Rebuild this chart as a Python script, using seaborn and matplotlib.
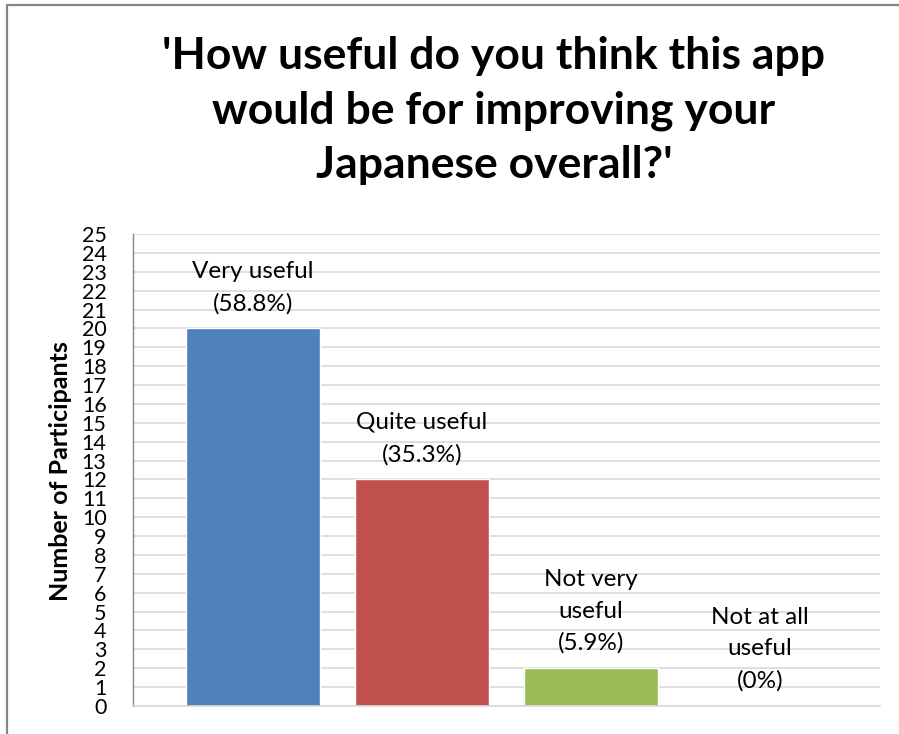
import matplotlib
matplotlib.use("Agg")
import matplotlib.pyplot as plt
from matplotlib.lines import Line2D
import seaborn as sns
import pandas as pd

# Survey responses
categories = ["Very useful", "Quite useful", "Not very useful", "Not at all useful"]
participants = [20, 12, 2, 0]
bar_labels = ["Very useful\n(58.8%)", "Quite useful\n(35.3%)",
              "Not very\nuseful\n(5.9%)", "Not at all\nuseful\n(0%)"]
bar_colors = ["#4F81BD", "#C0504D", "#9BBB59", "#8064A2"]
y_ticks = list(range(0, 26))

title_text = "'How useful do you think this app\nwould be for improving your\nJapanese overall?'"
y_title = "Number of Participants"

sns.set_theme(style="white")
plt.rcParams["font.family"] = ["Lato", "DejaVu Sans"]

df = pd.DataFrame({"category": categories, "count": participants})

fig = plt.figure(figsize=(8.99, 7.34), dpi=100)
ax = fig.add_axes([133 / 899, 1 - 706 / 734, (880 - 133) / 899, (706 - 234) / 734])

sns.barplot(data=df, x="category", y="count", hue="category",
            palette=bar_colors, width=0.79, dodge=False, legend=False,
            saturation=1.0, ax=ax)

ax.set_xlim(-0.71, 3.71)
ax.set_ylim(0, 25)
ax.set_yticks(y_ticks)
ax.set_yticklabels([str(v) for v in y_ticks], fontsize=15.5, color="black")
ax.set_xticks([])
ax.set_xlabel("")
ax.set_ylabel("")
ax.tick_params(axis="y", length=0, pad=19)

ax.yaxis.grid(True, color="#D9D9D9", linewidth=1.2)
ax.set_axisbelow(True)
for side in ["top", "right"]:
    ax.spines[side].set_visible(False)
ax.spines["left"].set_color("#868686")
ax.spines["left"].set_linewidth(1.0)
ax.spines["bottom"].set_color("#D9D9D9")
ax.spines["bottom"].set_linewidth(1.2)

for i, (val, lab) in enumerate(zip(participants, bar_labels)):
    ax.annotate(lab, xy=(i, val), xytext=(0, 10.3), textcoords="offset points",
                ha="center", va="bottom", fontsize=17.5, linespacing=1.62,
                color="black")

fig.text(60 / 899, 1 - 471 / 734, y_title, rotation=90, ha="center", va="center",
         fontsize=18, fontweight="bold", color="black")

fig.text(494 / 899, 1 - 36 / 734, title_text, ha="center", va="top",
         fontsize=32, fontweight="bold", linespacing=1.43, color="black")

# chart-area frame along the top and left edges
fig.add_artist(Line2D([7 / 899, 1.0], [1 - 5 / 734, 1 - 5 / 734],
                      transform=fig.transFigure, color="#878787", linewidth=1.6))
fig.add_artist(Line2D([7 / 899, 7 / 899], [0.0, 1 - 5 / 734],
                      transform=fig.transFigure, color="#878787", linewidth=1.6))

fig.savefig("out.png", dpi=100, facecolor="white")
